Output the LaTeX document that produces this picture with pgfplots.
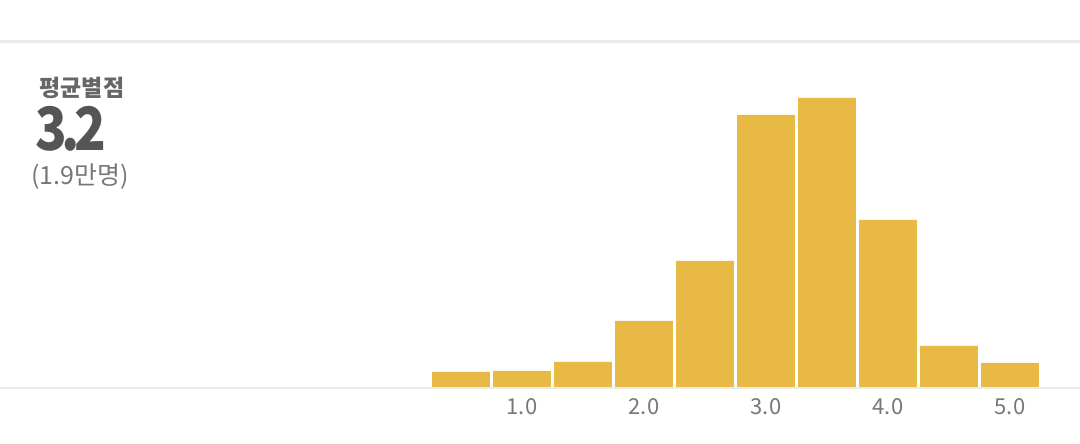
\documentclass[border=0pt]{standalone}
\usepackage{fontspec}
\setmainfont{Noto Sans CJK KR}
\usepackage{pgfplots}
\pgfplotsset{compat=1.18}
\definecolor{barc}{HTML}{E8BA45}
\definecolor{linec}{HTML}{EBEBEB}
\definecolor{tickc}{HTML}{777777}
\definecolor{titc}{HTML}{666666}
\definecolor{bigc}{HTML}{555555}
\begin{document}
\begin{tikzpicture}
\useasboundingbox (0pt,-57pt) rectangle (1080pt,387pt);
\begin{axis}[
  scale only axis,
  width=1080pt, height=345pt,
  xmin=-3.279, xmax=5.574,
  ymin=0, ymax=345,
  axis line style={draw=none},
  ytick=\empty,
  xtick={1,2,3,4,5},
  xticklabels={1.0,2.0,3.0,4.0,5.0},
  major tick length=0pt,
  xticklabel style={font=\fontsize{22}{22}\selectfont, text=tickc, anchor=center, yshift=-23pt},
  typeset ticklabels with strut=false,
  clip=false,
  ybar, bar width=0.475,
]
\draw[linec, line width=3pt] (rel axis cs:0,1) -- (rel axis cs:1,1);
\draw[linec, line width=2pt] ([yshift=-1pt]rel axis cs:0,0) -- ([yshift=-1pt]rel axis cs:1,0);
\addplot[fill=barc, draw=none] coordinates {
 (0.5,15) (1.0,16) (1.5,25) (2.0,66) (2.5,126) (3.0,272) (3.5,289) (4.0,167) (4.5,41) (5.0,24)
};
\end{axis}
\node[anchor=center, text=titc, font=\fontsize{23}{23}\selectfont\bfseries, inner sep=0] at (82pt,299pt) {평균별점};
\node[anchor=center, text=bigc, font=\fontsize{58}{58}\selectfont\bfseries, inner sep=0] at (71pt,258pt) {\scalebox{0.9}[1.03]{3\kern-6pt.\kern-6pt2}};
\node[anchor=center, text=tickc, font=\fontsize{25}{25}\selectfont, inner sep=0] at (80pt,210pt) {(1.9만명)};
\end{tikzpicture}
\end{document}
